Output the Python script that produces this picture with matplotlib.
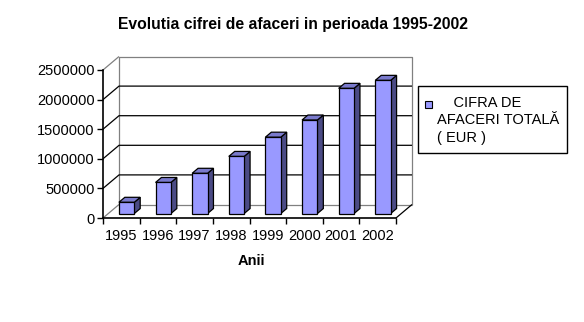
import matplotlib

matplotlib.use("Agg")

import matplotlib.pyplot as plt
from matplotlib.patches import Polygon, Rectangle

plt.rcParams["font.family"] = ["Liberation Sans", "DejaVu Sans"]

YEARS = ["1995", "1996", "1997", "1998", "1999", "2000", "2001", "2002"]
VALUES = [190000, 525000, 680000, 965000, 1290000, 1580000, 2115000, 2250000]
Y_TICKS = [0, 500000, 1000000, 1500000, 2000000, 2500000]

TITLE = "Evolutia cifrei de afaceri in perioada 1995-2002"
X_LABEL = "Anii"
LEGEND_LINES = ["    CIFRA DE", "AFACERI TOTALĂ", "( EUR )"]

FRONT = "#9999ff"
TOP = "#7a7acc"
SIDE = "#4b4b85"
WALL_EDGE = "#808080"

# depth of the 3d box, in data units
DX = 0.437
DY = 228000
BAR_W = 0.42
BAR_D0, BAR_D1 = 0.33, 0.70

W, H = 584, 322
fig = plt.figure(figsize=(W / 100, H / 100), dpi=100)

n = len(YEARS)
ymax = Y_TICKS[-1]
x_lo, x_hi = -0.5, n - 0.5 + DX
y_lo, y_hi = 0, ymax + DY

px_x = 293 / n
px_y = 148 / ymax
left_px, bottom_px = 103, 218
ax = fig.add_axes([
    left_px / W,
    (H - bottom_px) / H,
    (x_hi - x_lo) * px_x / W,
    (y_hi - y_lo) * px_y / H,
])
ax.set_xlim(x_lo, x_hi)
ax.set_ylim(y_lo, y_hi)
ax.patch.set_alpha(0)


def line(xs, ys, color="black", lw=0.9, z=1):
    ax.plot(xs, ys, color=color, lw=lw, zorder=z, solid_capstyle="butt", clip_on=False)


# back wall
back_l, back_r = x_lo + DX, x_hi
line([back_l, back_l, back_r, back_r], [DY, ymax + DY, ymax + DY, DY], color=WALL_EDGE)
line([back_l, back_r], [DY, DY], color=WALL_EDGE)
for t in Y_TICKS[1:-1]:
    line([x_lo, back_l, back_r], [t, t + DY, t + DY])
line([x_lo, back_l], [0, DY], color=WALL_EDGE)
line([x_lo, back_l], [ymax, ymax + DY], color=WALL_EDGE)
# floor right edge
line([n - 0.5, x_hi], [0, DY])

# bars
for i, v in enumerate(VALUES):
    x0 = i - BAR_W / 2 + BAR_D0 * DX
    y0 = BAR_D0 * DY
    ddx = (BAR_D1 - BAR_D0) * DX
    ddy = (BAR_D1 - BAR_D0) * DY
    side = Polygon([(x0 + BAR_W, y0), (x0 + BAR_W + ddx, y0 + ddy),
                    (x0 + BAR_W + ddx, y0 + v + ddy), (x0 + BAR_W, y0 + v)],
                   closed=True, facecolor=SIDE, edgecolor="black", lw=0.9, zorder=3)
    top = Polygon([(x0, y0 + v), (x0 + BAR_W, y0 + v),
                   (x0 + BAR_W + ddx, y0 + v + ddy), (x0 + ddx, y0 + v + ddy)],
                  closed=True, facecolor=TOP, edgecolor="black", lw=0.9, zorder=3)
    front = Rectangle((x0, y0), BAR_W, v, facecolor=FRONT, edgecolor="black",
                      lw=0.9, zorder=4)
    for p in (side, top, front):
        ax.add_patch(p)

# axes
for s in ("top", "right"):
    ax.spines[s].set_visible(False)
ax.spines["left"].set_bounds(0, ymax)
ax.spines["bottom"].set_bounds(-0.5, n - 0.5)
for s in ("left", "bottom"):
    ax.spines[s].set_linewidth(1.2)
    ax.spines[s].set_zorder(5)

ax.set_yticks(Y_TICKS)
ax.set_yticklabels([str(t) for t in Y_TICKS], fontsize=10.5)
ax.set_xticks(range(n))
ax.set_xticklabels(YEARS, fontsize=10.5)
ax.set_xticks([i - 0.5 for i in range(n + 1)], minor=True)
ax.tick_params(axis="x", which="major", length=0, pad=8)
ax.tick_params(axis="x", which="minor", length=4, width=1, direction="out")
ax.tick_params(axis="y", length=4, width=1, direction="out", pad=2)

fig.text(293 / W, 1 - 25 / H, TITLE, ha="center", va="center",
         fontsize=11.3, fontweight="bold")
fig.text(251 / W, 1 - 261 / H, X_LABEL, ha="center", va="center",
         fontsize=10.5, fontweight="bold")

# legend box
lx0, ly0, lx1, ly1 = 418, 86, 567, 153
fig.patches.append(Rectangle((lx0 / W, 1 - ly1 / H), (lx1 - lx0) / W, (ly1 - ly0) / H,
                             transform=fig.transFigure, facecolor="white",
                             edgecolor="black", lw=1))
fig.patches.append(Rectangle((425 / W, 1 - 108 / H), 7 / W, 7 / H,
                             transform=fig.transFigure, facecolor=FRONT,
                             edgecolor="black", lw=0.8))
for k, txt in enumerate(LEGEND_LINES):
    fig.text(437 / W, 1 - (103 + 17.5 * k) / H, txt, ha="left", va="center",
             fontsize=10.5)

fig.savefig("out.png", dpi=100)
